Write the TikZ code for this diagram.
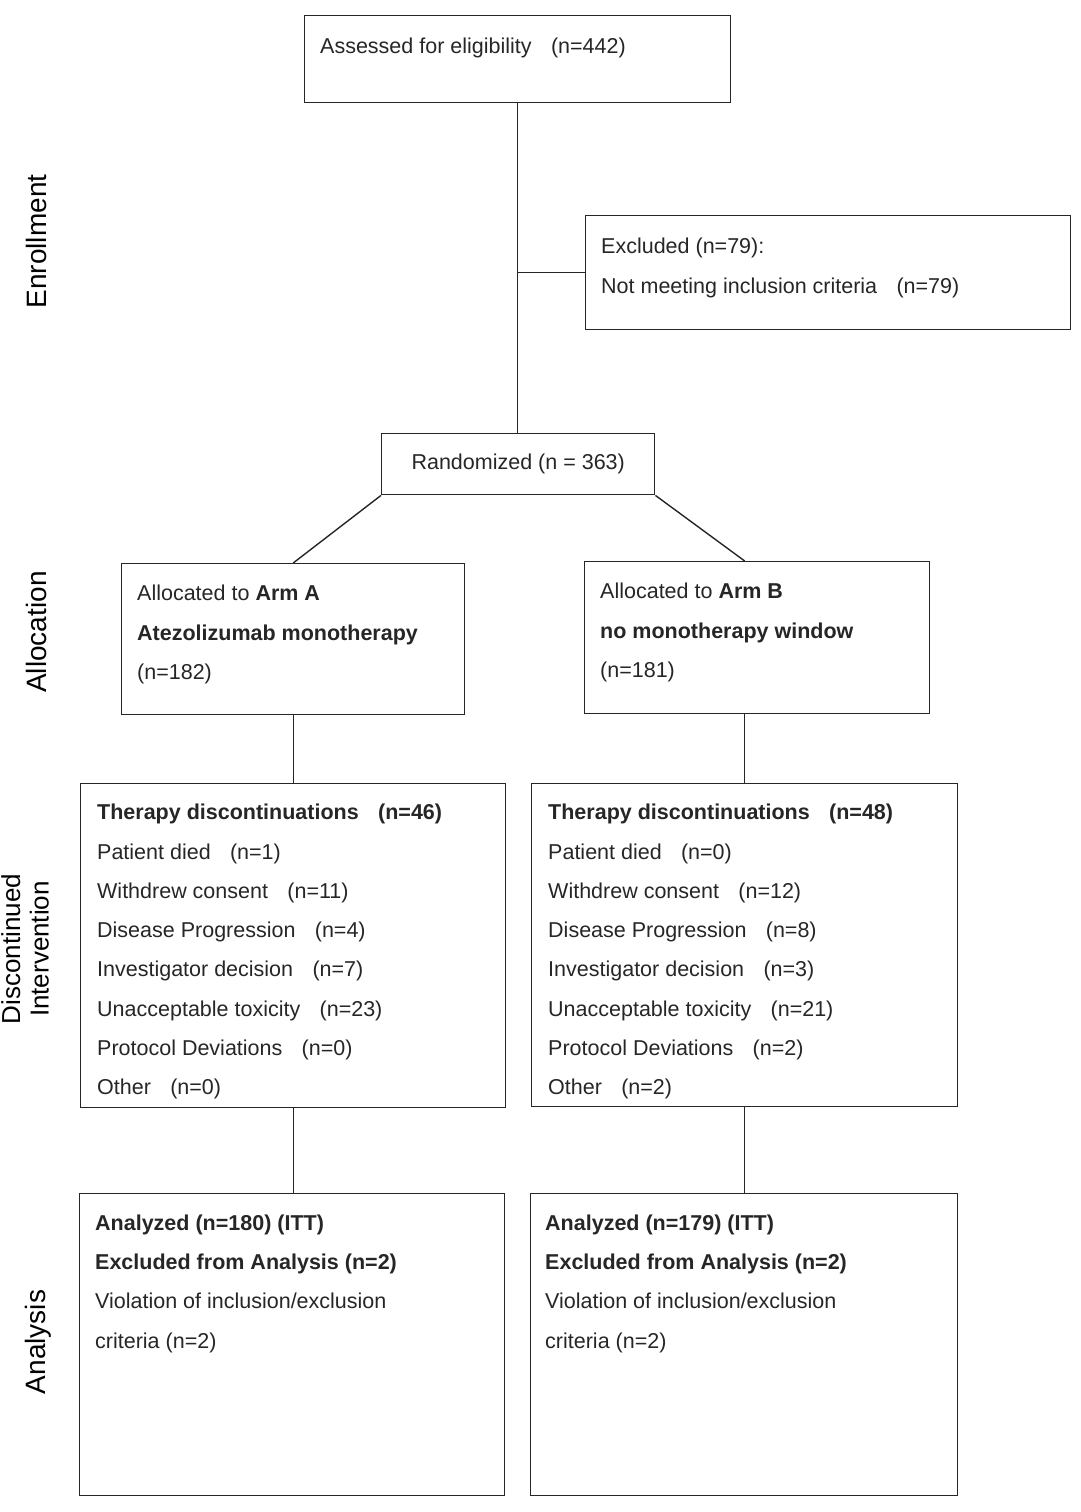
\documentclass[tikz,border=0pt]{standalone}
\usepackage{fontspec}
\setmainfont{Liberation Sans}
\usetikzlibrary{positioning}

\newcommand{\ngap}{\hspace{0.9em}}

\begin{document}
\begin{tikzpicture}[x=1pt, y=-1pt, node distance=20pt and 16pt,
		box/.style={draw=black!85, line width=1.4pt, anchor=north west, inner sep=0pt},
		txt/.style={inner sep=0pt, align=left, text=black!85, font=\fontsize{21.5}{39.3}\selectfont},
		phase/.style={inner sep=0pt, rotate=90, anchor=base, font=\fontsize{28}{30}\selectfont},
		link/.style={draw=black!85, line width=1.4pt}]
				\useasboundingbox (0,0) rectangle (1080,1512);

				\node (assess) [box, minimum width=426pt, minimum height=87pt] at (304,15) {};
				\node (assess_text) [txt, below right=23pt and 16pt of assess.north west] {Assessed for eligibility\ngap(n=442)};

				\node (excl) [box, minimum width=485pt, minimum height=114pt] at (585,215) {};
				\node (excl_text) [txt, below right=23pt and 16pt of excl.north west] {Excluded (n=79):\\Not meeting inclusion criteria\ngap(n=79)};

				\node (rand) [box, txt, minimum width=273pt, minimum height=61pt] at (381,433) {Randomized (n = 363)};

				\node (armA) [box, minimum width=343pt, minimum height=151pt] at (121,563) {};
				\node (armA_text) [txt, below right=22pt and 16pt of armA.north west] {Allocated to \textbf{Arm A}\\\textbf{Atezolizumab monotherapy}\\(n=182)};

				\node (armB) [box, minimum width=345pt, minimum height=152pt] at (584,561) {};
				\node (armB_text) [txt, below right=22pt and 16pt of armB.north west] {Allocated to \textbf{Arm B}\\\textbf{no monotherapy window}\\(n=181)};

				\node (discA) [box, minimum width=425pt, minimum height=324pt] at (80,783) {};
				\node (discA_text) [txt, below right=21pt and 17pt of discA.north west] {\textbf{Therapy discontinuations\ngap(n=46)}\\Patient died\ngap(n=1)\\Withdrew consent\ngap(n=11)\\Disease Progression\ngap(n=4)\\Investigator decision\ngap(n=7)\\Unacceptable toxicity\ngap(n=23)\\Protocol Deviations\ngap(n=0)\\Other\ngap(n=0)};

				\node (discB) [box, minimum width=426pt, minimum height=323pt] at (531,783) {};
				\node (discB_text) [txt, below right=21pt and 17pt of discB.north west] {\textbf{Therapy discontinuations\ngap(n=48)}\\Patient died\ngap(n=0)\\Withdrew consent\ngap(n=12)\\Disease Progression\ngap(n=8)\\Investigator decision\ngap(n=3)\\Unacceptable toxicity\ngap(n=21)\\Protocol Deviations\ngap(n=2)\\Other\ngap(n=2)};

				\node (anaA) [box, minimum width=425pt, minimum height=302pt] at (79,1193) {};
				\node (anaA_text) [txt, below right=21.5pt and 16pt of anaA.north west] {\textbf{Analyzed (n=180) (ITT)}\\\textbf{Excluded from Analysis (n=2)}\\Violation of inclusion/exclusion\\criteria (n=2)};

				\node (anaB) [box, minimum width=427pt, minimum height=302pt] at (530,1193) {};
				\node (anaB_text) [txt, below right=21.5pt and 15pt of anaB.north west] {\textbf{Analyzed (n=179) (ITT)}\\\textbf{Excluded from Analysis (n=2)}\\Violation of inclusion/exclusion\\criteria (n=2)};

				\node (enroll_label) [phase] at (46,241.5) {Enrollment};
				\node (alloc_label) [phase] at (46,632) {Allocation};
				\node (disc_label) [phase, anchor=south, align=center, font=\fontsize{26}{28.5}\selectfont] at (49,949) {Discontinued\\Intervention};
				\node (ana_label) [phase] at (45,1342) {Analysis};

				\draw [link] (assess.south) -- (assess.south |- rand.north);
				\draw [link] (excl.west) -- (excl.west -| assess.south);
				\draw [link] (rand.south west) -- (armA.north);
				\draw [link] (rand.south east) -- (armB.north -| discB.north);
				\draw [link] (armA.south) -- (discA.north);
				\draw [link] (armB.south -| discB.north) -- (discB.north);
				\draw [link] (discA.south) -- (anaA.north -| discA.south);
				\draw [link] (discB.south) -- (anaB.north -| discB.south);
			\end{tikzpicture}
\end{document}
